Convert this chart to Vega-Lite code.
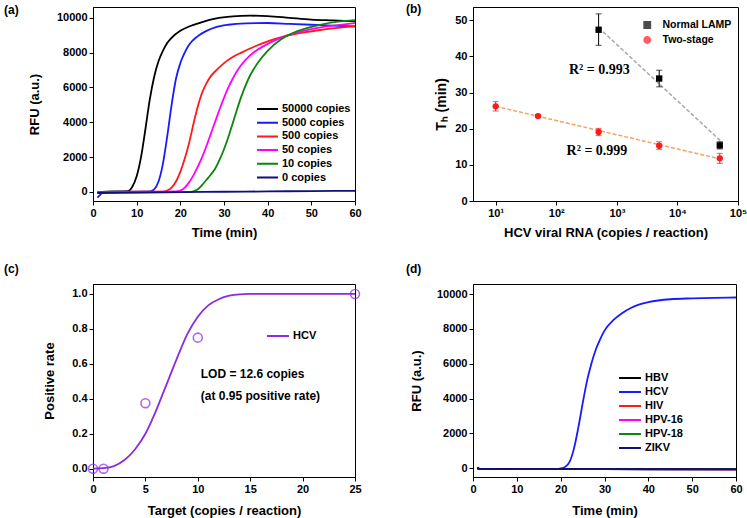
{
  "$schema": "https://vega.github.io/schema/vega-lite/v6.json",
  "padding": {"left": 3, "top": 2, "right": 0, "bottom": 0},
  "background": "white",
  "columns": 2,
  "spacing": {"row": 83, "column": 118},
  "bounds": "flush",
  "align": "each",
  "resolve": {
    "scale": {"color": "independent", "shape": "independent", "x": "independent", "y": "independent"},
    "legend": {"color": "independent", "shape": "independent"}
  },
  "config": {
    "font": "Liberation Sans",
    "view": {"stroke": "#000", "strokeWidth": 1},
    "axis": {
      "grid": false, "labelFont": "Liberation Sans", "labelFontSize": 11, "labelFontWeight": "bold",
      "labelColor": "#000", "titleFont": "Liberation Sans", "titleFontSize": 13, "titleFontWeight": "bold",
      "titleColor": "#000", "domainColor": "#000", "tickColor": "#000", "tickSize": 4, "labelPadding": 2,
      "labelFlush": false, "labelOverlap": false
    },
    "title": {"font": "Liberation Sans", "fontSize": 12, "fontWeight": "bold", "anchor": "start", "frame": "group", "offset": 0, "color": "#000"},
    "legend": {
      "labelFont": "Liberation Sans", "labelFontWeight": "bold", "labelFontSize": 11, "labelColor": "#000",
      "padding": 0, "offset": 0, "labelOffset": 3, "clipHeight": 12, "rowPadding": 1.7
    }
  },
  "concat": [
    {
      "width": 262, "height": 194,
      "title": {"text": "(a)", "dx": -89, "dy": 14},
      "data": {"values": [
        {"t":1,"rfu":-20,"s":"50000 copies"},{"t":3,"rfu":20,"s":"50000 copies"},{"t":6,"rfu":30,"s":"50000 copies"},{"t":8,"rfu":50,"s":"50000 copies"},{"t":9,"rfu":300,"s":"50000 copies"},{"t":10,"rfu":900,"s":"50000 copies"},{"t":11,"rfu":2000,"s":"50000 copies"},{"t":12,"rfu":3600,"s":"50000 copies"},{"t":13,"rfu":5300,"s":"50000 copies"},{"t":14,"rfu":6600,"s":"50000 copies"},{"t":15,"rfu":7500,"s":"50000 copies"},{"t":16,"rfu":8100,"s":"50000 copies"},{"t":17,"rfu":8550,"s":"50000 copies"},{"t":18,"rfu":8850,"s":"50000 copies"},{"t":20,"rfu":9250,"s":"50000 copies"},{"t":22,"rfu":9500,"s":"50000 copies"},{"t":25,"rfu":9750,"s":"50000 copies"},{"t":28,"rfu":9950,"s":"50000 copies"},{"t":32,"rfu":10080,"s":"50000 copies"},{"t":36,"rfu":10120,"s":"50000 copies"},{"t":40,"rfu":10100,"s":"50000 copies"},{"t":45,"rfu":10000,"s":"50000 copies"},{"t":50,"rfu":9900,"s":"50000 copies"},{"t":55,"rfu":9850,"s":"50000 copies"},{"t":60,"rfu":9800,"s":"50000 copies"},
        {"t":1,"rfu":-330,"s":"5000 copies"},{"t":1.5,"rfu":-200,"s":"5000 copies"},{"t":2,"rfu":-80,"s":"5000 copies"},{"t":3,"rfu":0,"s":"5000 copies"},{"t":8,"rfu":20,"s":"5000 copies"},{"t":13,"rfu":30,"s":"5000 copies"},{"t":14,"rfu":150,"s":"5000 copies"},{"t":15,"rfu":600,"s":"5000 copies"},{"t":16,"rfu":1600,"s":"5000 copies"},{"t":17,"rfu":3200,"s":"5000 copies"},{"t":18,"rfu":5000,"s":"5000 copies"},{"t":19,"rfu":6500,"s":"5000 copies"},{"t":20,"rfu":7400,"s":"5000 copies"},{"t":21,"rfu":8000,"s":"5000 copies"},{"t":22,"rfu":8450,"s":"5000 copies"},{"t":24,"rfu":8950,"s":"5000 copies"},{"t":26,"rfu":9250,"s":"5000 copies"},{"t":28,"rfu":9450,"s":"5000 copies"},{"t":31,"rfu":9600,"s":"5000 copies"},{"t":35,"rfu":9680,"s":"5000 copies"},{"t":40,"rfu":9700,"s":"5000 copies"},{"t":45,"rfu":9650,"s":"5000 copies"},{"t":50,"rfu":9600,"s":"5000 copies"},{"t":55,"rfu":9550,"s":"5000 copies"},{"t":60,"rfu":9500,"s":"5000 copies"},
        {"t":1,"rfu":-50,"s":"500 copies"},{"t":5,"rfu":0,"s":"500 copies"},{"t":16,"rfu":20,"s":"500 copies"},{"t":17,"rfu":80,"s":"500 copies"},{"t":18,"rfu":250,"s":"500 copies"},{"t":19,"rfu":600,"s":"500 copies"},{"t":20,"rfu":1150,"s":"500 copies"},{"t":21,"rfu":1900,"s":"500 copies"},{"t":22,"rfu":2800,"s":"500 copies"},{"t":23,"rfu":3900,"s":"500 copies"},{"t":24,"rfu":4900,"s":"500 copies"},{"t":25,"rfu":5700,"s":"500 copies"},{"t":26,"rfu":6250,"s":"500 copies"},{"t":27,"rfu":6650,"s":"500 copies"},{"t":28.5,"rfu":7050,"s":"500 copies"},{"t":30,"rfu":7400,"s":"500 copies"},{"t":32,"rfu":7750,"s":"500 copies"},{"t":34,"rfu":8000,"s":"500 copies"},{"t":37,"rfu":8350,"s":"500 copies"},{"t":40,"rfu":8650,"s":"500 copies"},{"t":44,"rfu":8950,"s":"500 copies"},{"t":48,"rfu":9150,"s":"500 copies"},{"t":52,"rfu":9300,"s":"500 copies"},{"t":56,"rfu":9420,"s":"500 copies"},{"t":60,"rfu":9520,"s":"500 copies"},
        {"t":1,"rfu":-30,"s":"50 copies"},{"t":10,"rfu":0,"s":"50 copies"},{"t":19,"rfu":30,"s":"50 copies"},{"t":20,"rfu":80,"s":"50 copies"},{"t":21,"rfu":250,"s":"50 copies"},{"t":22,"rfu":550,"s":"50 copies"},{"t":23,"rfu":950,"s":"50 copies"},{"t":24,"rfu":1450,"s":"50 copies"},{"t":25,"rfu":2000,"s":"50 copies"},{"t":26,"rfu":2650,"s":"50 copies"},{"t":27,"rfu":3350,"s":"50 copies"},{"t":28,"rfu":4050,"s":"50 copies"},{"t":29,"rfu":4750,"s":"50 copies"},{"t":30,"rfu":5400,"s":"50 copies"},{"t":31,"rfu":6000,"s":"50 copies"},{"t":32,"rfu":6500,"s":"50 copies"},{"t":33,"rfu":6950,"s":"50 copies"},{"t":34,"rfu":7300,"s":"50 copies"},{"t":35,"rfu":7600,"s":"50 copies"},{"t":37,"rfu":8050,"s":"50 copies"},{"t":40,"rfu":8500,"s":"50 copies"},{"t":43,"rfu":8850,"s":"50 copies"},{"t":46,"rfu":9100,"s":"50 copies"},{"t":50,"rfu":9350,"s":"50 copies"},{"t":55,"rfu":9550,"s":"50 copies"},{"t":60,"rfu":9700,"s":"50 copies"},
        {"t":1,"rfu":-30,"s":"10 copies"},{"t":10,"rfu":-20,"s":"10 copies"},{"t":22,"rfu":-10,"s":"10 copies"},{"t":23,"rfu":30,"s":"10 copies"},{"t":24,"rfu":150,"s":"10 copies"},{"t":25,"rfu":400,"s":"10 copies"},{"t":26,"rfu":700,"s":"10 copies"},{"t":27,"rfu":1000,"s":"10 copies"},{"t":28,"rfu":1350,"s":"10 copies"},{"t":29,"rfu":1850,"s":"10 copies"},{"t":30,"rfu":2450,"s":"10 copies"},{"t":31,"rfu":3150,"s":"10 copies"},{"t":32,"rfu":3950,"s":"10 copies"},{"t":33,"rfu":4750,"s":"10 copies"},{"t":34,"rfu":5500,"s":"10 copies"},{"t":35,"rfu":6150,"s":"10 copies"},{"t":36,"rfu":6700,"s":"10 copies"},{"t":38,"rfu":7500,"s":"10 copies"},{"t":40,"rfu":8100,"s":"10 copies"},{"t":43,"rfu":8750,"s":"10 copies"},{"t":47,"rfu":9250,"s":"10 copies"},{"t":52,"rfu":9600,"s":"10 copies"},{"t":56,"rfu":9780,"s":"10 copies"},{"t":60,"rfu":9870,"s":"10 copies"},
        {"t":1,"rfu":-60,"s":"0 copies"},{"t":10,"rfu":-40,"s":"0 copies"},{"t":20,"rfu":-10,"s":"0 copies"},{"t":30,"rfu":10,"s":"0 copies"},{"t":40,"rfu":30,"s":"0 copies"},{"t":50,"rfu":50,"s":"0 copies"},{"t":60,"rfu":60,"s":"0 copies"}
      ]},
      "mark": {"type": "line", "interpolate": "monotone", "strokeWidth": 1.8},
      "encoding": {
        "x": {"field": "t", "type": "quantitative", "scale": {"domain": [0, 60], "nice": false},
              "axis": {"values": [0,10,20,30,40,50,60], "labelOverlap": false, "title": "Time (min)", "titlePadding": 8}},
        "y": {"field": "rfu", "type": "quantitative", "scale": {"domain": [-520, 10620], "nice": false, "zero": false},
              "axis": {"values": [0,2000,4000,6000,8000,10000], "labelOverlap": false, "format": "d", "title": "RFU (a.u.)", "titlePadding": 15}},
        "color": {"field": "s", "type": "nominal", "sort": null,
                  "scale": {"domain": ["50000 copies","5000 copies","500 copies","50 copies","10 copies","0 copies"],
                            "range": ["#000000","#1a1aff","#ff1a1a","#ff00ff","#0a870a","#10107a"]},
                  "legend": {"orient": "none", "legendX": 163, "legendY": 96, "title": null, "symbolType": "stroke", "symbolSize": 440, "symbolStrokeWidth": 2}}
      }
    },
    {
      "width": 265, "height": 194,
      "title": {"text": "(b)", "dx": -67, "dy": 13},
      "layer": [
        {
          "data": {"values": [{"x": 500, "y": 48}, {"x": 55000, "y": 16.2}]},
          "mark": {"type": "line", "strokeDash": [4, 2], "strokeWidth": 1.5, "color": "#a8a8a8"},
          "encoding": {
            "x": {"field": "x", "type": "quantitative", "scale": {"type": "log", "domain": [4.22, 100000], "nice": false},
                  "axis": {"values": [10,100,1000,10000,100000], "labelOverlap": false, "labelExpr": "'10' + ['⁰','¹','²','³','⁴','⁵'][round(log(datum.value)/LN10)]", "title": "HCV viral RNA (copies / reaction)", "titlePadding": 8}},
            "y": {"field": "y", "type": "quantitative", "scale": {"domain": [0, 53.7], "nice": false},
                  "axis": {"values": [0,10,20,30,40,50], "labelOverlap": false, "title": "Tₕ (min)", "titleFontSize": 14, "titlePadding": 6}}
          }
        },
        {
          "data": {"values": [{"x": 10, "y": 26.2}, {"x": 55000, "y": 11.5}]},
          "mark": {"type": "line", "strokeDash": [4, 2], "strokeWidth": 1.5, "color": "#f4a460"},
          "encoding": {
            "x": {"field": "x", "type": "quantitative"},
            "y": {"field": "y", "type": "quantitative", "axis": {"values": [0,10,20,30,40,50], "labelOverlap": false, "title": "Tₕ (min)", "titleFontSize": 14, "titlePadding": 6}}
          }
        },
        {
          "data": {"values": [
            {"x": 500, "y": 47.4, "lo": 43.1, "hi": 51.8, "series": "Normal LAMP"},
            {"x": 5000, "y": 33.9, "lo": 31.6, "hi": 36.2, "series": "Normal LAMP"},
            {"x": 50000, "y": 15.4, "lo": 14.4, "hi": 16.4, "series": "Normal LAMP"},
            {"x": 10, "y": 26.2, "lo": 24.9, "hi": 27.5, "series": "Two-stage"},
            {"x": 50, "y": 23.5, "lo": 23.1, "hi": 23.9, "series": "Two-stage"},
            {"x": 500, "y": 19.1, "lo": 18.1, "hi": 20.1, "series": "Two-stage"},
            {"x": 5000, "y": 15.3, "lo": 14.3, "hi": 16.4, "series": "Two-stage"},
            {"x": 50000, "y": 11.8, "lo": 10.4, "hi": 13.2, "series": "Two-stage"}
          ]},
          "layer": [
            {
              "mark": {"type": "rule", "strokeWidth": 1},
              "encoding": {
                "x": {"field": "x", "type": "quantitative"},
                "y": {"field": "lo", "type": "quantitative", "axis": {"values": [0,10,20,30,40,50], "labelOverlap": false, "title": "Tₕ (min)", "titleFontSize": 14, "titlePadding": 6}},
                "y2": {"field": "hi"},
                "color": {"field": "series", "type": "nominal", "scale": {"domain": ["Normal LAMP", "Two-stage"], "range": ["#000000", "#ff1a1a"]}}
              }
            },
            {
              "mark": {"type": "tick", "orient": "horizontal", "size": 6, "thickness": 1},
              "encoding": {
                "x": {"field": "x", "type": "quantitative"},
                "y": {"field": "lo", "type": "quantitative", "axis": {"values": [0,10,20,30,40,50], "labelOverlap": false, "title": "Tₕ (min)", "titleFontSize": 14, "titlePadding": 6}},
                "color": {"field": "series", "type": "nominal"}
              }
            },
            {
              "mark": {"type": "tick", "orient": "horizontal", "size": 6, "thickness": 1},
              "encoding": {
                "x": {"field": "x", "type": "quantitative"},
                "y": {"field": "hi", "type": "quantitative", "axis": {"values": [0,10,20,30,40,50], "labelOverlap": false, "title": "Tₕ (min)", "titleFontSize": 14, "titlePadding": 6}},
                "color": {"field": "series", "type": "nominal"}
              }
            },
            {
              "mark": {"type": "point", "filled": true, "size": 40, "opacity": 1},
              "encoding": {
                "x": {"field": "x", "type": "quantitative"},
                "y": {"field": "y", "type": "quantitative", "axis": {"values": [0,10,20,30,40,50], "labelOverlap": false, "title": "Tₕ (min)", "titleFontSize": 14, "titlePadding": 6}},
                "color": {"field": "series", "type": "nominal",
                          "legend": {"orient": "none", "legendX": 169, "legendY": 12, "title": null, "labelFontSize": 10.5, "labelOffset": 10, "symbolSize": 40, "clipHeight": 12, "rowPadding": 3}},
                "shape": {"field": "series", "type": "nominal", "scale": {"domain": ["Normal LAMP", "Two-stage"], "range": ["square", "circle"]},
                          "legend": {"orient": "none", "legendX": 169, "legendY": 12, "title": null, "labelFontSize": 10.5, "labelOffset": 10, "symbolSize": 40, "clipHeight": 12, "rowPadding": 3}}
              }
            }
          ]
        },
        {
          "data": {"values": [{"x": 162, "y": 36.3, "t": "R² = 0.993"}, {"x": 148, "y": 13.8, "t": "R² = 0.999"}]},
          "mark": {"type": "text", "align": "left", "baseline": "middle", "font": "Liberation Serif", "fontWeight": "bold", "fontSize": 14, "color": "#000"},
          "encoding": {
            "x": {"field": "x", "type": "quantitative"},
            "y": {"field": "y", "type": "quantitative", "axis": {"values": [0,10,20,30,40,50], "labelOverlap": false, "title": "Tₕ (min)", "titleFontSize": 14, "titlePadding": 6}},
            "text": {"field": "t"}
          }
        }
      ]
    },
    {
      "width": 262, "height": 193,
      "title": {"text": "(c)", "dx": -89, "dy": -4},
      "layer": [
        {
          "data": {"values": [
            {"x":0,"y":0,"s":"HCV"},{"x":1,"y":0.003,"s":"HCV"},{"x":2,"y":0.015,"s":"HCV"},{"x":3,"y":0.05,"s":"HCV"},{"x":4,"y":0.11,"s":"HCV"},{"x":5,"y":0.2,"s":"HCV"},{"x":6,"y":0.33,"s":"HCV"},{"x":7,"y":0.48,"s":"HCV"},{"x":8,"y":0.63,"s":"HCV"},{"x":9,"y":0.77,"s":"HCV"},{"x":10,"y":0.87,"s":"HCV"},{"x":11,"y":0.935,"s":"HCV"},{"x":12,"y":0.97,"s":"HCV"},{"x":13,"y":0.99,"s":"HCV"},{"x":14,"y":0.998,"s":"HCV"},{"x":15,"y":1,"s":"HCV"},{"x":20,"y":1,"s":"HCV"},{"x":25,"y":1,"s":"HCV"}
          ]},
          "mark": {"type": "line", "interpolate": "monotone", "strokeWidth": 1.8},
          "encoding": {
            "x": {"field": "x", "type": "quantitative", "scale": {"domain": [0, 25], "nice": false},
                  "axis": {"values": [0,5,10,15,20,25], "labelOverlap": false, "title": "Target (copies / reaction)", "titlePadding": 10}},
            "y": {"field": "y", "type": "quantitative", "scale": {"domain": [-0.0475, 1.057], "nice": false, "zero": false},
                  "axis": {"values": [0,0.2,0.4,0.6,0.8,1.0], "labelOverlap": false, "format": ".1f", "title": "Positive rate", "titlePadding": 15}},
            "color": {"field": "s", "type": "nominal", "scale": {"domain": ["HCV"], "range": ["#8b2be2"]},
                      "legend": {"orient": "none", "legendX": 173, "legendY": 46, "title": null, "symbolType": "stroke", "symbolSize": 480, "symbolStrokeWidth": 2}}
          }
        },
        {
          "data": {"values": [{"x": 0, "y": 0}, {"x": 1, "y": 0}, {"x": 5, "y": 0.375}, {"x": 10, "y": 0.75}, {"x": 25, "y": 1.0}]},
          "mark": {"type": "point", "filled": false, "size": 80, "strokeWidth": 1.6, "color": "#8b2be2", "clip": false},
          "encoding": {
            "x": {"field": "x", "type": "quantitative"},
            "y": {"field": "y", "type": "quantitative", "axis": {"values": [0,0.2,0.4,0.6,0.8,1.0], "labelOverlap": false, "format": ".1f", "title": "Positive rate", "titlePadding": 15}}
          }
        },
        {
          "data": {"values": [{"x": 10.28, "y": 0.542, "t": "LOD = 12.6 copies"}, {"x": 10.28, "y": 0.414, "t": "(at 0.95 positive rate)"}]},
          "mark": {"type": "text", "align": "left", "baseline": "middle", "font": "Liberation Sans", "fontWeight": "bold", "fontSize": 12, "color": "#000"},
          "encoding": {
            "x": {"field": "x", "type": "quantitative"},
            "y": {"field": "y", "type": "quantitative", "axis": {"values": [0,0.2,0.4,0.6,0.8,1.0], "labelOverlap": false, "format": ".1f", "title": "Positive rate", "titlePadding": 15}},
            "text": {"field": "t"}
          }
        }
      ]
    },
    {
      "width": 263, "height": 193,
      "title": {"text": "(d)", "dx": -67, "dy": -4},
      "data": {"values": [
        {"t":1,"rfu":-30,"s":"HCV"},{"t":10,"rfu":-40,"s":"HCV"},{"t":19,"rfu":-40,"s":"HCV"},{"t":20,"rfu":-10,"s":"HCV"},{"t":21,"rfu":80,"s":"HCV"},{"t":22,"rfu":350,"s":"HCV"},{"t":23,"rfu":1100,"s":"HCV"},{"t":24,"rfu":2300,"s":"HCV"},{"t":25,"rfu":3700,"s":"HCV"},{"t":26,"rfu":5000,"s":"HCV"},{"t":27,"rfu":6000,"s":"HCV"},{"t":28,"rfu":6800,"s":"HCV"},{"t":29,"rfu":7400,"s":"HCV"},{"t":30,"rfu":7900,"s":"HCV"},{"t":32,"rfu":8500,"s":"HCV"},{"t":34,"rfu":8900,"s":"HCV"},{"t":36,"rfu":9200,"s":"HCV"},{"t":38,"rfu":9400,"s":"HCV"},{"t":40,"rfu":9530,"s":"HCV"},{"t":45,"rfu":9700,"s":"HCV"},{"t":50,"rfu":9750,"s":"HCV"},{"t":55,"rfu":9780,"s":"HCV"},{"t":60,"rfu":9800,"s":"HCV"},
        {"t":1,"rfu":0,"s":"HIV"},{"t":2,"rfu":-50,"s":"HIV"},{"t":30,"rfu":-50,"s":"HIV"},{"t":60,"rfu":-55,"s":"HIV"},
        {"t":1,"rfu":0,"s":"HPV-16"},{"t":2,"rfu":-50,"s":"HPV-16"},{"t":60,"rfu":-55,"s":"HPV-16"},
        {"t":1,"rfu":-50,"s":"HPV-18"},{"t":60,"rfu":-50,"s":"HPV-18"},
        {"t":1,"rfu":50,"s":"HBV"},{"t":1.5,"rfu":-40,"s":"HBV"},{"t":20,"rfu":-45,"s":"HBV"},{"t":40,"rfu":-55,"s":"HBV"},{"t":60,"rfu":-60,"s":"HBV"},
        {"t":1,"rfu":60,"s":"ZIKV"},{"t":1.5,"rfu":-40,"s":"ZIKV"},{"t":30,"rfu":-50,"s":"ZIKV"},{"t":60,"rfu":-60,"s":"ZIKV"}
      ]},
      "mark": {"type": "line", "interpolate": "monotone", "strokeWidth": 1.8},
      "encoding": {
        "x": {"field": "t", "type": "quantitative", "scale": {"domain": [0, 60], "nice": false},
              "axis": {"values": [0,10,20,30,40,50,60], "labelOverlap": false, "title": "Time (min)", "titlePadding": 10}},
        "y": {"field": "rfu", "type": "quantitative", "scale": {"domain": [-500, 10574], "nice": false, "zero": false},
              "axis": {"values": [0,2000,4000,6000,8000,10000], "labelOverlap": false, "format": "d", "title": "RFU (a.u.)", "titlePadding": 13}},
        "color": {"field": "s", "type": "nominal", "sort": null,
                  "scale": {"domain": ["HBV","HCV","HIV","HPV-16","HPV-18","ZIKV"],
                            "range": ["#000000","#1a1aff","#ff1a1a","#ff00ff","#0a870a","#10107a"]},
                  "legend": {"orient": "none", "legendX": 145, "legendY": 88, "title": null, "symbolType": "stroke", "symbolSize": 480, "symbolStrokeWidth": 2, "rowPadding": 2}}
      }
    }
  ]
}
